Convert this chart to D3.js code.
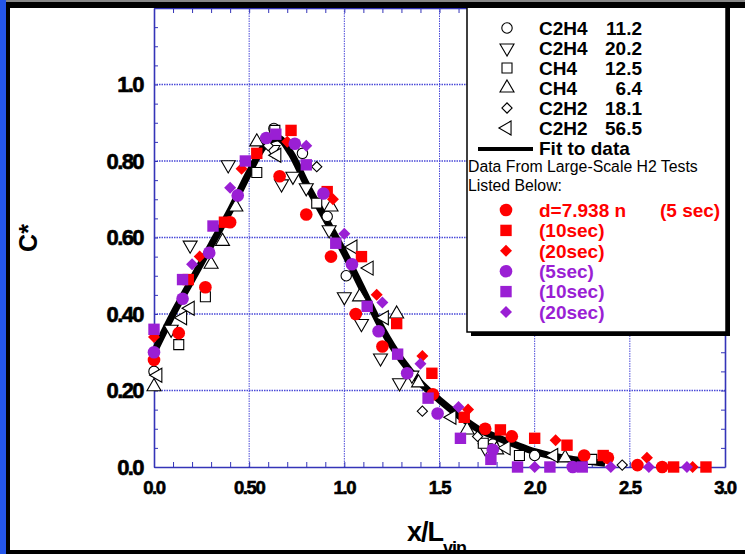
<!DOCTYPE html>
<html>
<head>
<meta charset="utf-8">
<script src="https://cdn.jsdelivr.net/npm/d3@7"></script>
<style>
body { margin:0; background:#fff; }
svg { display:block; font-family:"Liberation Sans", Arial, sans-serif; }
</style>
</head>
<body>
<svg id="drawing_region"></svg>
<script>
// axis ticks
const xTicks = [0, 0.5, 1.0, 1.5, 2.0, 2.5, 3.0];
const xTickLabels = ["0.0", "0.50", "1.0", "1.5", "2.0", "2.5", "3.0"];
const yTicks = [0, 0.2, 0.4, 0.6, 0.8, 1.0];
const yTickLabels = ["0.0", "0.20", "0.40", "0.60", "0.80", "1.0"];

// fit to data (thick black curve)
const fitX = [0, 0.1, 0.2, 0.3, 0.4, 0.5, 0.58, 0.65, 0.72, 0.8, 0.9, 1.0, 1.1, 1.2, 1.3, 1.4, 1.5, 1.6, 1.7, 1.8, 1.9, 2.0, 2.1, 2.2, 2.37];
const fitY = [0.30, 0.40, 0.49, 0.58, 0.67, 0.77, 0.84, 0.86, 0.82, 0.74, 0.65, 0.56, 0.46, 0.36, 0.28, 0.22, 0.175, 0.135, 0.10, 0.078, 0.058, 0.04, 0.028, 0.02, 0.01];

// open symbols: small-scale tests
const c2h4_112 = [[0.0,0.25],[0.63,0.885],[0.78,0.82],[0.91,0.655],[1.01,0.50],[2.0,0.03],[1.78,0.06]];
const c2h4_202 = [[0.09,0.36],[0.19,0.58],[0.39,0.79],[0.625,0.83],[0.67,0.74],[0.73,0.76],[0.80,0.73],[0.92,0.62],[1.0,0.445],[1.09,0.375],[1.19,0.285],[1.29,0.22],[1.355,0.24],[1.74,0.05]];
const ch4_125 = [[0.13,0.32],[0.27,0.445],[0.54,0.77],[0.635,0.88],[0.855,0.69],[1.73,0.062],[1.92,0.03],[2.3,0.02]];
const ch4_64 = [[0.0,0.21],[0.30,0.53],[0.36,0.59],[0.43,0.68],[0.54,0.85],[0.93,0.68],[1.08,0.445],[1.275,0.40],[1.39,0.22],[1.645,0.097],[1.80,0.045],[2.16,0.024]];
const c2h2_181 = [[0.855,0.785],[1.41,0.146],[2.46,0.005],[0.60,0.84],[1.70,0.08]];
const c2h2_565 = [[0.02,0.24],[0.15,0.39],[0.19,0.415],[0.645,0.815],[1.045,0.575],[1.13,0.52],[1.21,0.39],[1.565,0.13],[1.85,0.05],[2.1,0.03]];

// filled symbols: large-scale H2 tests
const red5 = [[0.0,0.28],[0.13,0.35],[0.27,0.47],[0.40,0.64],[0.66,0.76],[0.80,0.66],[0.93,0.55],[1.06,0.40],[1.20,0.315],[1.465,0.19],[1.74,0.10],[1.88,0.08],[2.26,0.03],[2.385,0.024],[2.54,0.005],[2.67,0]];
const red10 = [[0.18,0.49],[0.37,0.64],[0.54,0.82],[0.72,0.88],[0.91,0.72],[1.09,0.55],[1.275,0.375],[1.46,0.245],[1.63,0.13],[1.82,0.097],[2.0,0.075],[2.17,0.057],[2.36,0.03],[2.73,0],[2.90,0]];
const red20 = [[0.0,0.34],[0.24,0.55],[0.46,0.78],[0.70,0.85],[0.94,0.70],[1.17,0.45],[1.41,0.29],[1.65,0.15],[2.11,0.07],[2.59,0.024],[2.83,0]];
const pur5 = [[0.0,0.30],[0.15,0.44],[0.29,0.56],[0.44,0.71],[0.59,0.86],[0.74,0.845],[0.89,0.715],[1.04,0.53],[1.18,0.355],[1.33,0.245],[1.49,0.14],[1.78,0.045],[2.2,0]];
const pur10 = [[0.0,0.36],[0.15,0.49],[0.31,0.63],[0.48,0.80],[0.64,0.87],[0.80,0.79],[0.955,0.585],[1.12,0.42],[1.28,0.295],[1.44,0.18],[1.61,0.075],[1.77,0.02],[1.91,0],[2.08,0],[2.25,0]];
const pur20 = [[0.20,0.53],[0.40,0.73],[0.80,0.84],[1.0,0.61],[1.20,0.43],[1.40,0.27],[1.60,0.157],[2.0,0],[2.4,0],[2.6,0],[2.80,0]];

const openNames = ["C2H4", "C2H4", "CH4", "CH4", "C2H2", "C2H2"];
const openValues = ["11.2", "20.2", "12.5", "6.4", "18.1", "56.5"];
const filledLabels = ["(10sec)", "(20sec)", "(5sec)", "(10sec)", "(20sec)"];

const RED = "#ff0000", PURPLE = "#9a1fd4", BLUE = "#3434b8";

class FigureChart {
    constructor(config) {
        this.config = config;
        this.init();
    }

    init() {
        let self = this;
        self.svg = d3.select(self.config.parent)
            .attr('width', self.config.width)
            .attr('height', self.config.height);

        self.xscale = d3.scaleLinear().domain([0, 3]).range([154, 725]);
        self.yscale = d3.scaleLinear().domain([0, 1.2]).range([467, 8]);

        // diamonds are squares turned by 45 degrees, like in the original plot
        self.sym = {
            circle:   { type: d3.symbolCircle, rot: 0 },
            down:     { type: d3.symbolTriangle, rot: 180 },
            square:   { type: d3.symbolSquare, rot: 0 },
            up:       { type: d3.symbolTriangle, rot: 0 },
            diamond:  { type: d3.symbolSquare, rot: 45 },
            left:     { type: d3.symbolTriangle, rot: -90 }
        };

        self.openSeries = [
            { data: c2h4_112, s: 'circle' }, { data: c2h4_202, s: 'down' },
            { data: ch4_125, s: 'square' }, { data: ch4_64, s: 'up' },
            { data: c2h2_181, s: 'diamond' }, { data: c2h2_565, s: 'left' }
        ];
        self.filledSeries = [
            { data: red5, s: 'circle', c: RED }, { data: red10, s: 'square', c: RED },
            { data: red20, s: 'diamond', c: RED }, { data: pur5, s: 'circle', c: PURPLE },
            { data: pur10, s: 'square', c: PURPLE }, { data: pur20, s: 'diamond', c: PURPLE }
        ];
    }

    symbolPath(s, filled) {
        const sizes = filled
            ? { circle: 125, square: 130, diamond: 72 }
            : { circle: 85, square: 100, diamond: 52, up: 85, down: 85, left: 85 };
        return d3.symbol().type(this.sym[s].type).size(sizes[s])();
    }

    render() {
        let self = this;
        const x = self.xscale, y = self.yscale;

        // grid
        const grid = self.svg.append('g');
        grid.selectAll('.gx').data(xTicks.slice(1, -1)).join('line')
            .attr('x1', d => x(d)).attr('x2', d => x(d))
            .attr('y1', y(1.2)).attr('y2', y(0))
            .attr('stroke', '#4a4ad8').attr('stroke-width', 1).attr('stroke-dasharray', '1.5,1');
        grid.selectAll('.gy').data(yTicks.slice(1)).join('line')
            .attr('x1', x(0)).attr('x2', x(3))
            .attr('y1', d => y(d)).attr('y2', d => y(d))
            .attr('stroke', '#4a4ad8').attr('stroke-width', 1.6).attr('stroke-dasharray', '1.5,1');

        // minor ticks (inward)
        const yMinor = d3.range(0, 1.2001, 0.05);
        const xMinor = d3.range(0, 3.0001, 0.1);
        const ax = self.svg.append('g').attr('color', BLUE);
        ax.append('g').attr('transform', `translate(${x(0)},0)`)
            .call(d3.axisRight(y).tickValues(yMinor).tickSize(4).tickFormat('').tickSizeOuter(0));
        ax.append('g').attr('transform', `translate(${x(3)},0)`)
            .call(d3.axisLeft(y).tickValues(yMinor).tickSize(4).tickFormat('').tickSizeOuter(0));
        ax.append('g').attr('transform', `translate(0,${y(0)})`)
            .call(d3.axisTop(x).tickValues(xMinor).tickSize(5).tickFormat('').tickSizeOuter(0));
        ax.append('g').attr('transform', `translate(0,${y(1.2)})`)
            .call(d3.axisBottom(x).tickValues(xMinor).tickSize(5).tickFormat('').tickSizeOuter(0));
        ax.selectAll('.domain').attr('stroke-width', 1.6);

        // tick labels
        const lab = self.svg.append('g').attr('font-weight', 'bold').attr('fill', '#000')
            .attr('stroke', '#000').attr('stroke-width', 0.6);
        lab.selectAll('.yl').data(yTicks).join('text')
            .attr('x', 143).attr('y', d => y(d)).attr('dy', '0.36em')
            .attr('text-anchor', 'end').attr('font-size', 22).attr('letter-spacing', -1.6)
            .text((d, i) => yTickLabels[i]);
        lab.selectAll('.xl').data(xTicks).join('text')
            .attr('x', d => x(d)).attr('y', 494)
            .attr('text-anchor', 'middle').attr('font-size', 18.5).attr('letter-spacing', -1.4)
            .text((d, i) => xTickLabels[i]);

        // axis titles
        self.svg.append('text')
            .attr('transform', 'translate(37,238) rotate(-90)')
            .attr('text-anchor', 'middle').attr('font-weight', 'bold').attr('font-size', 25)
            .text('C*');
        const xt = self.svg.append('text')
            .attr('x', 407).attr('y', 541).attr('font-weight', 'bold').attr('font-size', 27)
            .attr('letter-spacing', -1);
        xt.append('tspan').text('x/L');
        xt.append('tspan').attr('dy', 13).attr('font-size', 18).text('vin');

        // fit line
        const line = d3.line().x(d => x(d[0])).y(d => y(d[1])).curve(d3.curveMonotoneX);
        self.svg.append('path')
            .attr('d', line(d3.zip(fitX, fitY)))
            .attr('fill', 'none').attr('stroke', '#000').attr('stroke-width', 7);

        // open markers
        self.openSeries.forEach(ser => {
            self.svg.append('g').selectAll('path').data(ser.data).join('path')
                .attr('d', self.symbolPath(ser.s, false))
                .attr('transform', d => `translate(${x(d[0])},${y(d[1])}) rotate(${self.sym[ser.s].rot})`)
                .attr('fill', '#fff').attr('stroke', '#000').attr('stroke-width', 1.1);
        });
        // filled markers
        self.filledSeries.forEach(ser => {
            self.svg.append('g').selectAll('path').data(ser.data).join('path')
                .attr('d', self.symbolPath(ser.s, true))
                .attr('transform', d => `translate(${x(d[0])},${y(d[1])}) rotate(${self.sym[ser.s].rot})`)
                .attr('fill', ser.c);
        });

        self.renderLegend();
        self.renderFrame();
    }

    renderLegend() {
        let self = this;
        const g = self.svg.append('g');
        g.append('rect').attr('x', 471).attr('y', 0).attr('width', 259).attr('height', 336).attr('fill', '#000');
        g.append('rect').attr('x', 467).attr('y', -4).attr('width', 259).attr('height', 336)
            .attr('fill', '#fff').attr('stroke', '#000').attr('stroke-width', 1.5);

        const openKeys = ['circle', 'down', 'square', 'up', 'diamond', 'left'];
        openKeys.forEach((k, i) => {
            const yy = 28 + i * 20;
            g.append('path').attr('d', self.symbolPath(k, false))
                .attr('transform', `translate(507,${yy}) rotate(${self.sym[k].rot})`)
                .attr('fill', '#fff').attr('stroke', '#000').attr('stroke-width', 1.1);
            g.append('text').attr('x', 539).attr('y', yy).attr('dy', '0.36em')
                .attr('font-weight', 'bold').attr('font-size', 19).text(openNames[i]);
            g.append('text').attr('x', 642).attr('y', yy).attr('dy', '0.36em').attr('text-anchor', 'end')
                .attr('font-weight', 'bold').attr('font-size', 19).text(openValues[i]);
        });

        g.append('line').attr('x1', 478).attr('x2', 533).attr('y1', 149).attr('y2', 149)
            .attr('stroke', '#000').attr('stroke-width', 4);
        g.append('text').attr('x', 539).attr('y', 148).attr('dy', '0.36em')
            .attr('font-weight', 'bold').attr('font-size', 19).text('Fit to data');
        g.append('text').attr('x', 468).attr('y', 166).attr('dy', '0.36em')
            .attr('font-size', 15.8).text('Data From Large-Scale H2 Tests');
        g.append('text').attr('x', 468).attr('y', 185).attr('dy', '0.36em')
            .attr('font-size', 15.8).text('Listed Below:');

        self.filledSeries.forEach((ser, i) => {
            const yy = 210 + i * 20.4;
            g.append('path').attr('d', self.symbolPath(ser.s, true))
                .attr('transform', `translate(506,${yy}) rotate(${self.sym[ser.s].rot})`).attr('fill', ser.c);
            if (i === 0) {
                g.append('text').attr('x', 539).attr('y', yy).attr('dy', '0.36em').attr('fill', ser.c)
                    .attr('font-weight', 'bold').attr('font-size', 19).text('d=7.938 n');
                g.append('text').attr('x', 660).attr('y', yy).attr('dy', '0.36em').attr('fill', ser.c)
                    .attr('font-weight', 'bold').attr('font-size', 19).text('(5 sec)');
            } else {
                g.append('text').attr('x', 539).attr('y', yy).attr('dy', '0.36em').attr('fill', ser.c)
                    .attr('font-weight', 'bold').attr('font-size', 19).text(filledLabels[i - 1]);
            }
        });
    }

    renderFrame() {
        let self = this;
        self.svg.append('rect').attr('x', 0).attr('y', 0).attr('width', self.config.width).attr('height', 3).attr('fill', '#888');
        self.svg.append('rect').attr('x', 0).attr('y', 2).attr('width', self.config.width).attr('height', 6).attr('fill', '#000');
        self.svg.append('rect').attr('x', 0).attr('y', 0).attr('width', 6).attr('height', self.config.height).attr('fill', '#2456ea');
        self.svg.append('rect').attr('x', 6).attr('y', 2).attr('width', 4).attr('height', self.config.height).attr('fill', '#000');
        self.svg.append('rect').attr('x', 6).attr('y', 550).attr('width', self.config.width).attr('height', 4).attr('fill', '#000');
    }
}

const chart = new FigureChart({ parent: '#drawing_region', width: 745, height: 554 });
chart.render();
</script>
</body>
</html>
